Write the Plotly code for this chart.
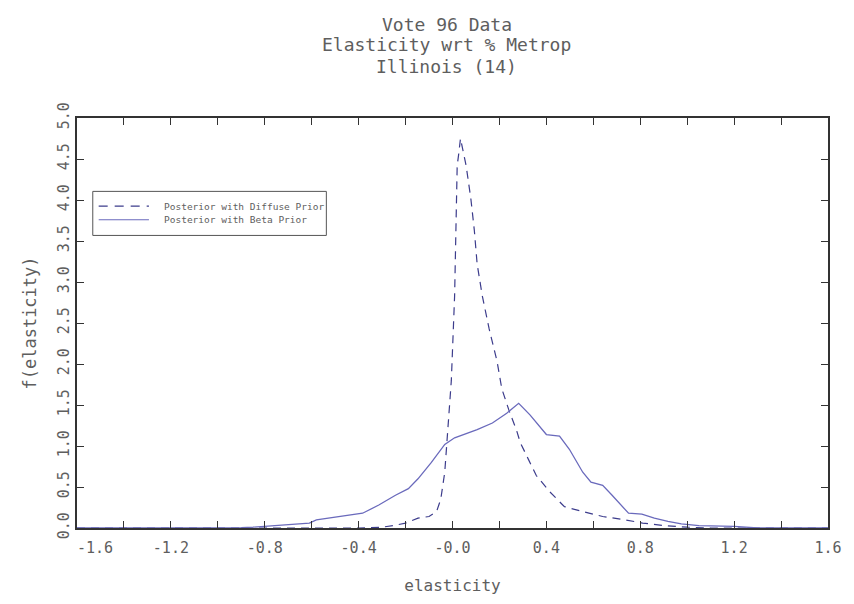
import plotly.graph_objects as go

# ---- data ----
diffuse_x = [-1.6, -1.0, -0.6, -0.4, -0.3, -0.25, -0.2, -0.147, -0.1, -0.068, -0.05, -0.033,
             -0.02, -0.005, 0.009, 0.016, 0.02, 0.026, 0.034, 0.045, 0.058, 0.078, 0.093,
             0.105, 0.127, 0.156, 0.19, 0.21, 0.24, 0.273, 0.289, 0.323, 0.357, 0.415,
             0.477, 0.555, 0.64, 0.735, 0.81, 0.9, 1.0, 1.1, 1.6]
diffuse_y = [0.0, 0.0, 0.0, 0.0, 0.01, 0.03, 0.06, 0.12, 0.14, 0.2, 0.35, 0.68,
             1.2, 1.8, 2.83, 3.63, 4.42, 4.55, 4.75, 4.6, 4.42, 4.02, 3.63,
             3.22, 2.83, 2.43, 2.03, 1.7, 1.44, 1.19, 1.04, 0.84, 0.64, 0.44,
             0.26, 0.2, 0.14, 0.1, 0.06, 0.03, 0.01, 0.0, 0.0]

beta_x = [-1.6, -1.0, -0.9, -0.85, -0.8, -0.735, -0.65, -0.61, -0.58, -0.525, -0.45,
          -0.425, -0.383, -0.314, -0.243, -0.188, -0.147, -0.09, -0.033, 0.009, 0.105,
          0.17, 0.231, 0.282, 0.33, 0.4, 0.456, 0.498, 0.555, 0.59, 0.64, 0.68, 0.75,
          0.807, 0.86, 0.918, 0.975, 1.05, 1.2, 1.3, 1.6]
beta_y = [0.0, 0.0, 0.005, 0.01, 0.02, 0.03, 0.05, 0.06, 0.1, 0.12, 0.15,
          0.16, 0.18, 0.28, 0.4, 0.48, 0.6, 0.8, 1.02, 1.1, 1.2,
          1.28, 1.4, 1.52, 1.38, 1.14, 1.12, 0.96, 0.68, 0.56, 0.52, 0.4, 0.18,
          0.17, 0.12, 0.08, 0.05, 0.03, 0.02, 0.0, 0.0]

x_tickvals = [-1.6, -1.4, -1.2, -1.0, -0.8, -0.6, -0.4, -0.2, 0.0, 0.2, 0.4, 0.6, 0.8, 1.0, 1.2, 1.4, 1.6]
x_ticktext = ["\u00a0\u00a0\u00a0\u00a0-1.6", "", "-1.2", "", "-0.8", "", "-0.4", "", "-0.0", "",
              "0.4", "", "0.8", "", "1.2", "", "1.6"]
y_tickvals = [0.0, 0.5, 1.0, 1.5, 2.0, 2.5, 3.0, 3.5, 4.0, 4.5, 5.0]
y_ticktext = ["0.0", "0.5", "1.0", "1.5", "2.0", "2.5", "3.0", "3.5", "4.0", "4.5", "5.0"]

title_lines = ["Vote 96 Data", "Elasticity wrt % Metrop", "Illinois (14)"]
series_names = ["Posterior with Diffuse Prior", "Posterior with Beta Prior"]
series_colors = ["#3c3c8c", "#6a6abc"]

FONT = "DejaVu Sans Mono"
GRAY = "#5e5e5e"

fig = go.Figure()
fig.add_trace(go.Scatter(x=diffuse_x, y=diffuse_y, mode="lines", name=series_names[0],
                         showlegend=False,
                         line=dict(color=series_colors[0], width=1.2, dash="8px,6px")))
fig.add_trace(go.Scatter(x=beta_x, y=beta_y, mode="lines", name=series_names[1],
                         showlegend=False,
                         line=dict(color=series_colors[1], width=1.3)))

axis_common = dict(showline=True, linecolor="#333333", linewidth=2, mirror="ticks",
                   ticks="inside", ticklen=7, tickwidth=1, tickcolor="#333333",
                   showgrid=False, zeroline=False,
                   tickfont=dict(family=FONT, size=15, color=GRAY))

# plot area in pixels: x 77..839, y 118..537
L, R, T, B = 77, 839, 118, 537
def px(xp):
    return (xp - L) / (R - L)
def py(yp):
    return (B - yp) / (B - T)

annotations = []
for line, ypix in zip(title_lines, [22, 43, 65]):
    annotations.append(dict(text=line, xref="paper", yref="paper", x=px(452), y=py(ypix),
                            xanchor="center", yanchor="middle", showarrow=False,
                            font=dict(family=FONT, size=18, color=GRAY)))

# legend (drawn by hand to match the reference's compact box)
shapes = [dict(type="rect", xref="paper", yref="paper", x0=px(93), x1=px(330),
               y0=py(238), y1=py(193), line=dict(color="#555555", width=1),
               fillcolor="white", layer="above")]
for i, ypix in enumerate([208, 222]):
    shapes.append(dict(type="line", xref="paper", yref="paper", x0=px(99), x1=px(150),
                       y0=py(ypix), y1=py(ypix), layer="above",
                       line=dict(color=series_colors[i], width=1.2,
                                 dash="9px,7px" if i == 0 else "solid")))
    annotations.append(dict(text=series_names[i], xref="paper", yref="paper",
                            x=px(163), y=py(ypix), xanchor="left", yanchor="middle",
                            showarrow=False,
                            font=dict(family=FONT, size=9.5, color=GRAY)))

fig.update_layout(
    width=854, height=604,
    margin=dict(l=L, r=854 - R, t=T, b=604 - B),
    paper_bgcolor="white", plot_bgcolor="white",
    xaxis=dict(range=[-1.6, 1.6], tickvals=x_tickvals, ticktext=x_ticktext,
               ticklabelstandoff=5,
               title=dict(text="elasticity", font=dict(family=FONT, size=16, color=GRAY), standoff=24),
               **axis_common),
    yaxis=dict(range=[0, 5.0], tickvals=y_tickvals, ticktext=y_ticktext, tickangle=-90,
               title=dict(text="f(elasticity)", font=dict(family=FONT, size=17, color=GRAY), standoff=14),
               **axis_common),
    shapes=shapes,
    annotations=annotations,
    showlegend=False,
)

# remove the browser's default 8px page margin so the figure sits at the window's corner
fig.write_html("out.html", config={"displayModeBar": False},
               post_script="document.body.style.margin='0';")
